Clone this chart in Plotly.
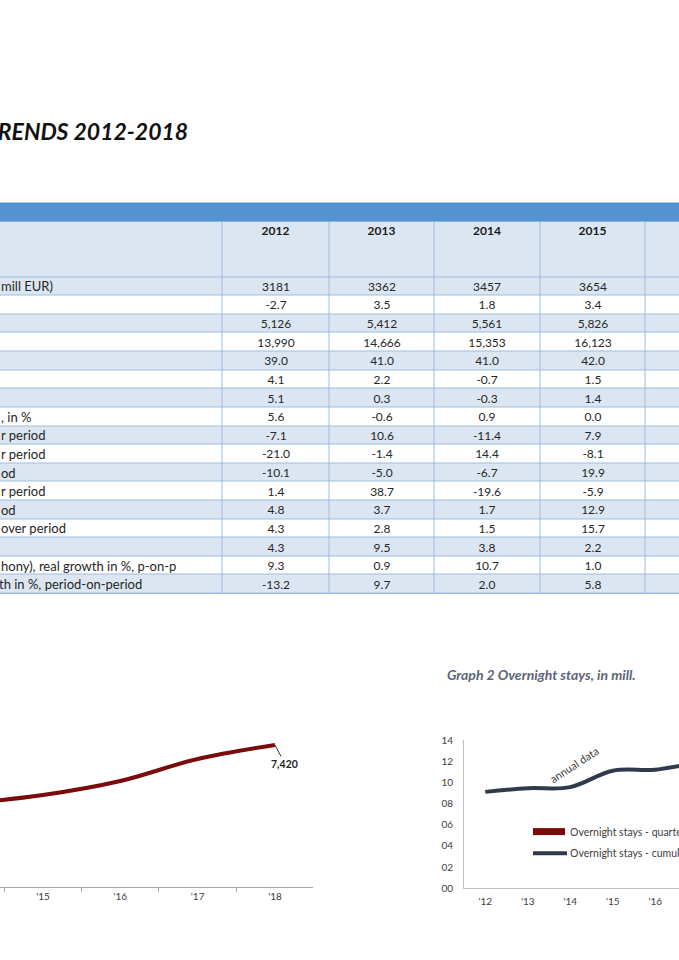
import plotly.graph_objects as go

W, H = 679, 960
# small vertical calibration of the rendering pipeline (reference px -> layout px)
SY, OY = 0.9864, 6.8
def px(x): return x / W
def py(y): return 1 - ((y - OY) / SY) / H

FONT = "Lato"

# ---------------- table data ----------------
years = ["2012", "2013", "2014", "2015"]
row_labels = ["mill EUR)", "", "", "", "", "", "", ", in %", "r period", "r period",
              "od", "r period", "od", "over period", "",
              "hony), real growth in %, p-on-p", "th in %, period-on-period"]
v2012 = ["3181", "-2.7", "5,126", "13,990", "39.0", "4.1", "5.1", "5.6", "-7.1", "-21.0",
         "-10.1", "1.4", "4.8", "4.3", "4.3", "9.3", "-13.2"]
v2013 = ["3362", "3.5", "5,412", "14,666", "41.0", "2.2", "0.3", "-0.6", "10.6", "-1.4",
         "-5.0", "38.7", "3.7", "2.8", "9.5", "0.9", "9.7"]
v2014 = ["3457", "1.8", "5,561", "15,353", "41.0", "-0.7", "-0.3", "0.9", "-11.4", "14.4",
         "-6.7", "-19.6", "1.7", "1.5", "3.8", "10.7", "2.0"]
v2015 = ["3654", "3.4", "5,826", "16,123", "42.0", "1.5", "1.4", "0.0", "7.9", "-8.1",
         "19.9", "-5.9", "12.9", "15.7", "2.2", "1.0", "5.8"]

# ---------------- graph 1 data ----------------
g1_cats = ["'12", "'13", "'14", "'15", "'16", "'17", "'18"]
g1_vals = [5126, 5412, 5561, 5826, 6272, 6974, 7420]
g1_last_label = "7,420"

# ---------------- graph 2 data ----------------
g2_cats = ["'12", "'13", "'14", "'15", "'16", "'17", "'18"]
g2_vals = [9.1, 9.45, 9.55, 11.1, 11.2, 11.9, 12.8]
g2_title = "Graph 2 Overnight stays, in mill."
g2_leg1 = "Overnight stays - quarte"
g2_leg2 = "Overnight stays - cumula"

LIGHT = "#dce6f2"
BORDER = "#9dbbe0"
BAND = "#5592d2"
RED = "#7a0b0b"
NAVY = "#2f3a4d"
TXT = "#404040"

# ---------------- table geometry (layout, pixel units) ----------------
col_edges = [-400, 222, 329, 434, 540, 645, 751]
header_top, header_h, row_h = 221.0, 55.5, 18.6

columns = [[""] * len(v2012), v2012, v2013, v2014, v2015, [""] * len(v2012)]
n = len(v2012)
row_edges = [header_top, header_top + header_h] + [header_top + header_h + row_h * (i + 1) for i in range(n)]
table_bottom = row_edges[-1]
z = [[0] * len(columns)] + [[(i % 2)] * len(columns) for i in range(n)]
text = [[""] * len(columns)] + [[col[i] for col in columns] for i in range(n)]
col_centers = [(col_edges[j] + col_edges[j + 1]) / 2 for j in range(1, 5)]
row_centers = [(row_edges[i + 1] + row_edges[i + 2]) / 2 for i in range(n)]

fig = go.Figure()

fig.add_trace(go.Heatmap(
    x=col_edges, y=row_edges, z=z, text=text, texttemplate="%{text}",
    textfont=dict(family=FONT, size=12, color="#262626"),
    colorscale=[[0, LIGHT], [1, "#ffffff"]], zmin=0, zmax=1, showscale=False,
    xgap=1, ygap=1, hoverinfo="skip", xaxis="x3", yaxis="y3"))

fig.add_trace(go.Scatter(
    x=col_centers, y=[header_top + 10.5] * len(years), text=["<b>%s</b>" % y for y in years],
    mode="text", textposition="middle center", cliponaxis=False,
    textfont=dict(family=FONT, size=12, color="#1a1a1a"),
    hoverinfo="skip", showlegend=False, xaxis="x3", yaxis="y3"))

# graph 1
fig.add_trace(go.Scatter(x=g1_cats, y=g1_vals, mode="lines", xaxis="x", yaxis="y",
                         line=dict(color=RED, width=4, shape="spline"),
                         showlegend=False, hoverinfo="skip"))
# graph 2
fig.add_trace(go.Scatter(x=g2_cats, y=g2_vals, mode="lines", xaxis="x2", yaxis="y2",
                         line=dict(color=NAVY, width=4, shape="spline"),
                         showlegend=False, hoverinfo="skip"))

annotations = []
annotations.append(dict(text="<b><i>TRENDS 2012-2018</i></b>", x=px(190), y=py(131),
                        xref="paper", yref="paper", xanchor="right", yanchor="middle",
                        showarrow=False, font=dict(family=FONT, size=23, color="#111111")))
for i, lab in enumerate(row_labels):
    if not lab:
        continue
    xoff = -3 if lab.startswith("th") else -1
    annotations.append(dict(text=lab, x=px(xoff), y=row_centers[i],
                            xref="paper", yref="y3", xanchor="left", yanchor="middle",
                            showarrow=False, font=dict(family=FONT, size=13, color="#262626")))
annotations.append(dict(text="<b>%s</b>" % g1_last_label, x=g1_cats[-1], y=g1_vals[-1],
                        xref="x", yref="y", showarrow=True, arrowhead=0, arrowwidth=1,
                        arrowcolor="#333333", ax=10, ay=19,
                        font=dict(family=FONT, size=10.5, color="#262626")))
annotations.append(dict(text="<b><i>%s</i></b>" % g2_title, x=px(445), y=py(674),
                        xref="paper", yref="paper", xanchor="left", yanchor="middle",
                        showarrow=False, font=dict(family=FONT, size=14, color="#5b6579")))
annotations.append(dict(text="annual data", x=px(574), y=py(763), xref="paper", yref="paper",
                        xanchor="center", yanchor="middle", textangle=-33, showarrow=False,
                        font=dict(family=FONT, size=11, color=TXT)))
annotations.append(dict(text=g2_leg1, x=px(568), y=py(830.5), xref="paper", yref="paper",
                        xanchor="left", yanchor="middle", showarrow=False,
                        font=dict(family=FONT, size=10.5, color=TXT)))
annotations.append(dict(text=g2_leg2, x=px(568), y=py(852), xref="paper", yref="paper",
                        xanchor="left", yanchor="middle", showarrow=False,
                        font=dict(family=FONT, size=10.5, color=TXT)))

shapes = [
    dict(type="rect", xref="x3", yref="y3", x0=-5, x1=690, y0=header_top - 0.5,
         y1=table_bottom + 0.5, fillcolor=BORDER, line=dict(width=0), layer="below"),
    dict(type="rect", xref="paper", yref="paper", x0=0, x1=1, y0=py(header_top), y1=py(202),
         fillcolor=BAND, line=dict(width=0)),
    dict(type="rect", xref="paper", yref="paper", x0=px(533), x1=px(565), y0=py(834), y1=py(827),
         fillcolor=RED, line=dict(width=0)),
    dict(type="line", xref="paper", yref="paper", x0=px(533), x1=px(567), y0=py(852), y1=py(852),
         line=dict(color=NAVY, width=4)),
]

fig.update_layout(
    width=W, height=H, margin=dict(l=0, r=0, t=0, b=0),
    paper_bgcolor="white", plot_bgcolor="white",
    font=dict(family=FONT, color=TXT),
    showlegend=False,
    xaxis=dict(domain=[0, px(313)], type="category", categoryorder="array",
               categoryarray=g1_cats, range=[2.444, 6.492], tickson="boundaries",
               ticks="outside", ticklen=4, tickcolor="#a6a6a6", showline=True,
               linecolor="#a6a6a6", linewidth=1, showgrid=False, zeroline=False,
               tickfont=dict(family=FONT, size=10, color=TXT), anchor="y", fixedrange=True),
    yaxis=dict(domain=[py(886), py(690)], range=[2890, 9140], visible=False,
               anchor="x", fixedrange=True),
    xaxis2=dict(domain=[px(464), 1], type="category", categoryorder="array",
                categoryarray=g2_cats, range=[-0.5, 4.559], showline=True,
                linecolor="#bfbfbf", linewidth=1, ticks="outside", ticklen=4,
                tickcolor="rgba(0,0,0,0)", showgrid=False, zeroline=False,
                tickfont=dict(family=FONT, size=10, color=TXT), anchor="y2", fixedrange=True),
    yaxis2=dict(domain=[py(887), py(739)], range=[0, 14], dtick=2, tickformat="02d",
                showline=True, linecolor="#bfbfbf", linewidth=1, ticks="", showgrid=False,
                zeroline=False, ticklabelstandoff=8,
                tickfont=dict(family=FONT, size=10, color=TXT), anchor="x2", fixedrange=True),
    xaxis3=dict(domain=[0, 1], range=[0, W], visible=False, anchor="y3", fixedrange=True),
    yaxis3=dict(domain=[py(table_bottom + 1), py(header_top - 1)],
                range=[table_bottom + 1, header_top - 1], visible=False, anchor="x3",
                fixedrange=True),
    annotations=annotations, shapes=shapes,
)

fig.write_html(
    "out.html", config={"displayModeBar": False},
    post_script=("var d=document.getElementById('{plot_id}');d.style.position='fixed';"
                 "d.style.left='0px';d.style.top='0px';document.body.style.margin='0';"
                 "document.documentElement.style.overflow='hidden';"
                 "document.body.style.overflow='hidden';"))
